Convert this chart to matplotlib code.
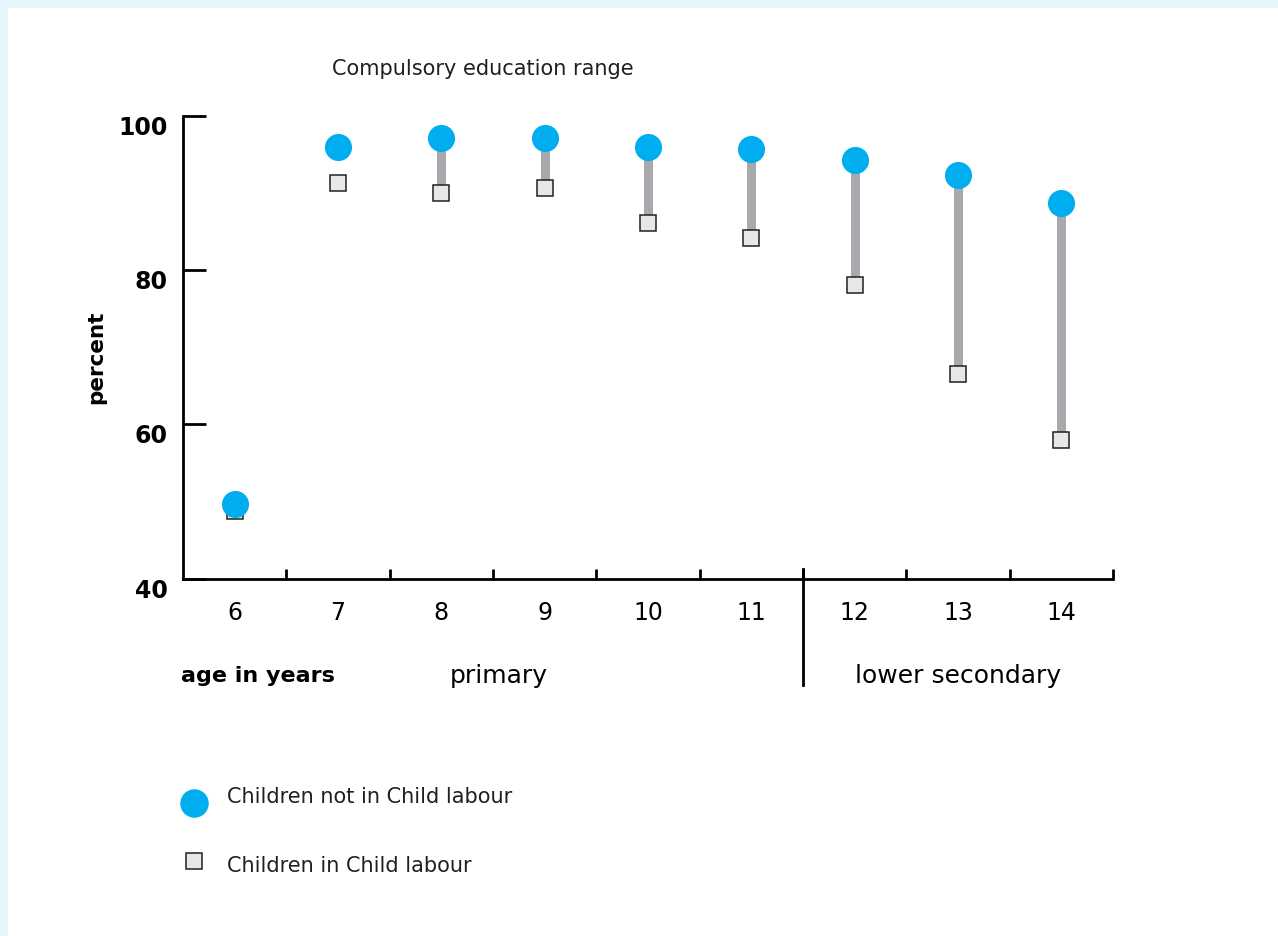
import matplotlib.pyplot as plt
from matplotlib.patches import Rectangle
from matplotlib.transforms import blended_transform_factory
import numpy as np

# Datos
edades = ["6", "7", "8", "9", "10", "11", "12", "13", "14"]
no_trabajo = [49.6, 95.9, 97.1, 97.1, 96.0, 95.7, 94.3, 92.3, 88.7]   # Children not in Child labour
trabajo = [48.7, 91.3, 90.0, 90.6, 86.1, 84.2, 78.1, 66.5, 58.0]      # Children in Child labour
con_barra = [False, False, True, True, True, True, True, True, True]
y_ticks = [40, 60, 80, 100]

AZUL = "#00aeef"
GRIS = "#a7a9ac"
CUADRO = "#e6e7e8"
BORDE = "#231f20"

fig = plt.figure(figsize=(12.78, 9.36), dpi=100, facecolor="#e6f4fb")
# panel blanco (borde celeste arriba e izquierda)
fig.patches.append(Rectangle((8 / 1278, 0), 1, 1 - 8 / 936, transform=fig.transFigure,
                             facecolor="white", edgecolor="none", zorder=-10))

ax = fig.add_axes([183 / 1278, 1 - 578.5 / 936, 930 / 1278, 462.7 / 936])
ax.set_facecolor("none")
ax.set_zorder(2)

x = np.arange(len(edades))
# barras grises entre puntos
for i in range(len(x)):
    if con_barra[i]:
        ax.plot([x[i], x[i]], [no_trabajo[i], trabajo[i]], color=GRIS,
                linewidth=6.5, solid_capstyle="butt", zorder=1)
ax.plot(x, trabajo, linestyle="none", marker="s", markersize=11.5,
        markerfacecolor=CUADRO, markeredgecolor=BORDE, markeredgewidth=1.1, zorder=2)
ax.plot(x, no_trabajo, linestyle="none", marker="o", markersize=19.5,
        markerfacecolor=AZUL, markeredgecolor="none", zorder=3)

ax.set_xlim(-0.5, len(edades) - 0.5)
ax.set_ylim(40, 100)

for s in ["top", "right"]:
    ax.spines[s].set_visible(False)
for s in ["left", "bottom"]:
    ax.spines[s].set_linewidth(2)
    ax.spines[s].set_color("black")

ax.set_yticks(y_ticks)
ax.set_yticklabels([str(v) for v in y_ticks], fontsize=17, fontweight="bold")
for lab in ax.get_yticklabels():
    lab.set_verticalalignment("top")
ax.tick_params(axis="y", direction="in", length=16.5, width=2, pad=11)

ax.set_xticks(x)
ax.set_xticklabels(edades, fontsize=17)
ax.tick_params(axis="x", which="major", length=0, pad=16.5)
ax.set_xticks(np.arange(0.5, len(edades), 1), minor=True)
ax.tick_params(axis="x", which="minor", direction="in", length=7.5, width=2)

trans = blended_transform_factory(ax.transData, ax.transAxes)
# divisor primaria / secundaria
ax.plot([5.5, 5.5], [0.02, -0.23], color="black", linewidth=2, transform=trans, clip_on=False)

ax.text(-0.52, -0.2107, "age in years", transform=trans, fontsize=16, fontweight="bold",
        ha="left", va="center")
ax.text(2.56, -0.2107, "primary", transform=trans, fontsize=18, ha="center", va="center")
ax.text(7.0, -0.2107, "lower secondary", transform=trans, fontsize=18, ha="center", va="center")

fig.text(96 / 1278, 1 - 357.5 / 936, "percent", rotation=90, fontsize=15.5, fontweight="bold",
         ha="center", va="center")
fig.text(332 / 1278, 1 - 69 / 936, "Compulsory education range", fontsize=15,
         ha="left", va="center", color="#231f20")

# leyenda
ax.plot([194 / 1278], [1 - 803 / 936], marker="o", markersize=19.5, color=AZUL,
        linestyle="none", transform=fig.transFigure, clip_on=False)
ax.plot([194 / 1278], [1 - 861 / 936], marker="s", markersize=11.5, markerfacecolor=CUADRO,
        markeredgecolor=BORDE, markeredgewidth=1.1, linestyle="none",
        transform=fig.transFigure, clip_on=False)
fig.text(227 / 1278, 1 - 797 / 936, "Children not in Child labour", fontsize=15,
         ha="left", va="center", color="#231f20")
fig.text(227 / 1278, 1 - 866 / 936, "Children in Child labour", fontsize=15,
         ha="left", va="center", color="#231f20")

fig.savefig("out.png", dpi=100, facecolor=fig.get_facecolor())
